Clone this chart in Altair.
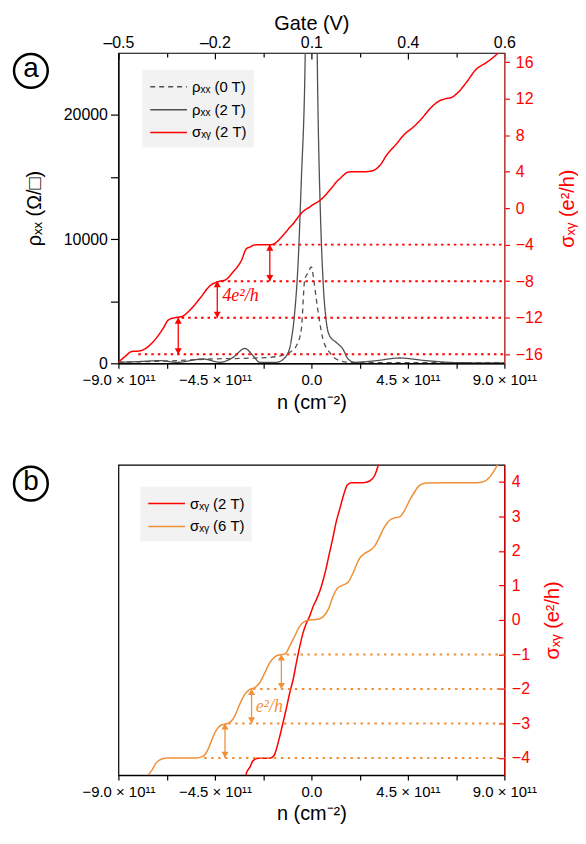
import altair as alt
import pandas as pd

# ---------------- data (n in units of 1e11 cm^-2) ----------------
# sigma_xy at 2 T (e^2/h)
n_s2T = [-9.0, -8.69, -8.38, -7.99, -7.76, -7.37, -6.91, -6.67, -6.36, -6.05,
         -5.66, -5.20, -4.73, -4.27, -4.03, -3.65, -3.26, -3.03,
         -2.87, -2.72, -2.48, -1.94, -1.74, -1.63, -1.47, -1.32, -1.16, -1.01,
         -0.85, -0.70, -0.54, -0.39, -0.23, -0.08, 0.08, 0.23, 0.39, 0.51,
         0.67, 0.82, 0.98, 1.16, 1.35, 1.52, 1.66, 1.86, 2.41, 2.72,
         2.95, 3.10, 3.25,
         3.49, 3.96, 4.35, 4.73, 5.12, 5.51, 5.97, 6.28, 6.52, 6.83,
         7.22, 7.68, 8.15, 8.46, 8.8]
sig_2T = [-16.9, -16.25, -15.71, -15.64, -15.42, -14.62, -13.16, -12.25, -12.0, -11.89,
          -11.16, -9.89, -8.51, -8.0, -7.89, -6.98, -5.71, -4.44,
          -4.27, -4.08, -4.01, -4.01, -3.93, -3.74, -3.36, -2.97, -2.54, -2.11,
          -1.72, -1.24, -0.76, -0.375, -0.09, 0.11, 0.39, 0.59, 0.83, 1.07,
          1.45, 1.88, 2.32, 2.85, 3.28, 3.66, 3.90, 3.98, 3.98, 4.03,
          4.19, 4.45, 4.85,
          5.75, 7.02, 8.11, 8.84, 9.75, 10.84, 11.75, 12.0, 12.11, 12.65,
          13.75, 15.2, 15.93, 16.47, 17.2]

# sigma_xy at 6 T (e^2/h)
n_s6T = [-7.60, -7.45, -7.22, -6.98, -6.67, -5.35, -5.04, -4.81, -4.66, -4.45,
         -4.27, -4.03, -3.80, -3.57, -3.34, -3.10, -2.87, -2.64, -2.41, -2.17,
         -1.94, -1.71, -1.47, -1.24, -1.01, -0.78, -0.54, -0.31, -0.08, 0.23,
         0.54, 0.78, 1.01, 1.21, 1.47, 1.71, 1.94, 2.25, 2.48, 2.72,
         2.95, 3.18, 3.41, 3.65, 3.88, 4.11, 4.35, 4.58, 4.81, 5.04,
         5.35, 6.13, 7.68, 7.99, 8.30, 8.53, 8.69]
sig_6T = [-4.49, -4.37, -4.13, -4.03, -4.0, -4.0, -3.95, -3.74, -3.5, -3.21,
          -3.07, -3.02, -2.97, -2.78, -2.44, -2.15, -2.01, -1.96, -1.82, -1.53,
          -1.24, -1.07, -1.01, -0.99, -0.76, -0.47, -0.18, -0.04, 0.0, 0.01,
          0.09, 0.30, 0.68, 0.92, 1.01, 1.09, 1.36, 1.79, 1.93, 2.01,
          2.14, 2.41, 2.70, 2.89, 2.96, 2.99, 3.18, 3.47, 3.71, 3.90,
          3.97, 3.98, 3.98, 4.0, 4.13, 4.34, 4.51]

# rho_xx at 0 T (Ohm/sq)
n_r0T = [-9.0, -7.84, -6.28, -4.73, -3.18, -1.94, -1.32, -1.01, -0.70, -0.47,
         -0.31, -0.16, 0.0, 0.11, 0.23, 0.39, 0.54, 0.85, 1.32, 1.78,
         3.80, 6.13, 9.0]
rho_0T = [80, 130, 213, 347, 400, 480, 667, 880, 1413, 2747,
          6747, 7280, 7760, 6747, 5147, 3280, 1947, 880, 213, 80,
          60, 60, 50]

# rho_xx at 2 T (Ohm/sq)
n_r2T = [-9.0, -8.15, -7.06, -6.28, -5.04, -4.27, -3.65, -3.10, -2.72, -2.41,
         -1.63, -1.16, -0.93, -0.78, -0.62, -0.47, -0.31, -0.16, 0.0, 0.16,
         0.31, 0.42, 0.54, 0.70, 0.85, 1.16, 1.47, 1.71, 2.02, 3.03,
         4.11, 5.35, 6.91, 9.0]
rho_2T = [80, 130, 213, 80, 347, 80, 480, 1200, 613, 80,
          80, 613, 1947, 4080, 8080, 14750, 22750, 40000, 45000, 40000,
          20080, 12080, 6747, 3280, 2213, 1680, 1147, 347, 80, 213,
          427, 213, 50, 30]

# plateau guides & arrows
plat_a_level = [-4, -8, -12, -16]
plat_a_start = [-1.8, -4.2, -6.05, -8.07]
arrow_a_n = [-1.94, -4.39, -6.21]
arrow_a_top = [-4, -8, -12]
arrow_a_bot = [-8, -12, -16]
plat_b_level = [-1, -2, -3, -4]
plat_b_start = [-1.16, -2.72, -3.88, -5.0]
arrow_b_n = [-1.40, -2.79, -4.03]
arrow_b_top = [-1, -2, -3]
arrow_b_bot = [-2, -3, -4]

x_ticks = [-9, -6.75, -4.5, -2.25, 0, 2.25, 4.5, 6.75, 9]
gate_ticks = [-9, -4.5, 0, 4.5, 9]
gate_labels = ["\u20130.5", "\u20130.2", "0.1", "0.4", "0.6"]

ser_a = ["\u03c1\u2093\u2093 (0 T)", "\u03c1\u2093\u2093 (2 T)", "\u03c3\u2093\u1d67 (2 T)"]
ser_b = ["\u03c3\u2093\u1d67 (2 T)", "\u03c3\u2093\u1d67 (6 T)"]

FONT = "Liberation Sans"
RED = "#ff0000"
ORANGE = "#f0913a"
GRAY = "#505050"
W, H = 388, 312
SA = [-17, 17]
SB = [-4.5, 4.5]
TFS = 20  # axis title font size

# ---------------- frames ----------------
df_rho = pd.concat([
    pd.DataFrame({"n": n_r0T, "v": rho_0T, "series": ser_a[0]}),
    pd.DataFrame({"n": n_r2T, "v": rho_2T, "series": ser_a[1]}),
])
df_sa = pd.DataFrame({"n": n_s2T, "v": sig_2T, "series": ser_a[2]})
df_sb = pd.concat([
    pd.DataFrame({"n": n_s2T, "v": sig_2T, "series": ser_b[0]}),
    pd.DataFrame({"n": n_s6T, "v": sig_6T, "series": ser_b[1]}),
])
df_pa = pd.DataFrame({"start": plat_a_start, "end": 9.0, "lvl": plat_a_level})
df_aa = pd.DataFrame({"n": arrow_a_n, "top": arrow_a_top, "bot": arrow_a_bot})
df_pb = pd.DataFrame({"start": plat_b_start, "end": 9.0, "lvl": plat_b_level})
df_ab = pd.DataFrame({"n": arrow_b_n, "top": arrow_b_top, "bot": arrow_b_bot})
gate_expr = " : ".join(
    f"datum.value == {v} ? '{l}'" for v, l in zip(gate_ticks[:-1], gate_labels[:-1])
) + f" : '{gate_labels[-1]}'"


def xs():
    return alt.Scale(domain=[-9, 9], nice=False, zero=False)


def ys(dom):
    return alt.Scale(domain=dom, nice=False, zero=False)


def bottom_axis():
    return alt.Axis(orient="bottom", values=x_ticks,
                    labelExpr="abs(datum.value) < 0.01 ? '0.0' : (abs(datum.value) % 4.5 < 0.01 ? format(datum.value, '.1f') + ' \u00d7 10\u00b9\u00b9' : '')",
                    title="n (cm\u207b\u00b2)", tickSize=5, labelFontSize=15, titleFontSize=TFS,
                    labelPadding=4, titlePadding=5, labelFlush=False, labelOverlap=False,
                    domainColor="black", tickColor="black", labelColor="black", titleColor="black")


def legend_at(x, y):
    # line symbol 37px long drawn from the entry's left edge
    return alt.Legend(orient="none", legendX=x, legendY=y, title=None,
                      symbolType="M-1,0H3.1", symbolSize=324, symbolStrokeWidth=1.5,
                      labelFontSize=15, labelFont=FONT, fillColor="#f2f2f2",
                      padding=7, rowPadding=5, labelLimit=300, labelOffset=23)


def letter_layers(letter, dom, dy):
    # anchored to the top-left corner of the plot area
    d = pd.DataFrame({"t": [letter], "x0": [-9.0], "y0": [dom[1]]})
    enc = dict(x=alt.X("x0:Q", scale=xs(), axis=None), y=alt.Y("y0:Q", scale=ys(dom), axis=None))
    c = alt.Chart(d).mark_point(shape="circle", size=1150, filled=False, color="black",
                                strokeWidth=2.5, opacity=1, xOffset=-88, yOffset=dy,
                                clip=False).encode(**enc)
    t = alt.Chart(d).mark_text(fontSize=28, font=FONT, align="center", baseline="middle",
                               xOffset=-88, yOffset=dy - 2, color="black").encode(
        text="t:N", **enc)
    return [c, t]


def invisible_x(axis, dom):
    d = pd.DataFrame({"n": x_ticks, "y0": [dom[0]] * len(x_ticks)})
    return alt.Chart(d).mark_point(opacity=0).encode(
        x=alt.X("n:Q", scale=xs(), axis=axis),
        y=alt.Y("y0:Q", scale=ys(dom), axis=None))


# ---------------- panel a ----------------
col_a = alt.Color("series:N", scale=alt.Scale(domain=ser_a, range=[GRAY, GRAY, RED]),
                  legend=legend_at(24, 17))
dash_a = alt.StrokeDash("series:N", scale=alt.Scale(domain=ser_a, range=[[5, 4], [1, 0], [1, 0]]),
                        legend=legend_at(24, 17))

rho_layer = alt.Chart(df_rho).mark_line(clip=True, strokeWidth=1.3, interpolate="monotone").encode(
    x=alt.X("n:Q", scale=xs(), axis=bottom_axis()),
    y=alt.Y("v:Q", scale=ys([0, 25000]),
            axis=alt.Axis(orient="left", values=[0, 5000, 10000, 15000, 20000],
                          labelExpr="datum.value % 10000 == 0 ? '' + datum.value : ''",
                          title="\u03c1\u2093\u2093 (\u03a9/\u25a1)", tickSize=8, labelFontSize=16,
                          titleFontSize=TFS, labelPadding=3, titlePadding=19, labelOverlap=False,
                          labelFlush=False, domainColor="black", tickColor="black")),
    color=col_a, strokeDash=dash_a, detail="series:N")

sig_a_layer = alt.Chart(df_sa).mark_line(clip=True, strokeWidth=1.5, interpolate="monotone").encode(
    x=alt.X("n:Q", scale=xs(), axis=None),
    y=alt.Y("v:Q", scale=ys(SA),
            axis=alt.Axis(orient="right", values=list(range(-16, 17, 4)), format="d",
                          title="\u03c3\u2093\u1d67 (e\u00b2/h)", titleAngle=270,
                          titleBaseline="top", tickSize=5,
                          labelFontSize=16, titleFontSize=TFS, labelPadding=6, titlePadding=15,
                          labelFlush=False, labelOverlap=False,
                          domainColor="#ff5050", tickColor=RED, labelColor=RED, titleColor=RED)),
    color=col_a, strokeDash=dash_a)

dots_a = alt.Chart(df_pa).mark_rule(strokeDash=[2.5, 4], strokeWidth=2, color=RED).encode(
    x=alt.X("start:Q", scale=xs(), axis=None), x2="end:Q",
    y=alt.Y("lvl:Q", scale=ys(SA), axis=None))
arr_a = alt.Chart(df_aa).mark_rule(strokeWidth=1.3, color=RED).encode(
    x=alt.X("n:Q", scale=xs(), axis=None),
    y=alt.Y("top:Q", scale=ys(SA), axis=None), y2="bot:Q")
head_a_up = alt.Chart(df_aa).mark_point(shape="triangle-up", filled=True, size=50, color=RED,
                                        opacity=1, yOffset=3).encode(
    x=alt.X("n:Q", scale=xs(), axis=None), y=alt.Y("top:Q", scale=ys(SA), axis=None))
head_a_dn = alt.Chart(df_aa).mark_point(shape="triangle-down", filled=True, size=50, color=RED,
                                        opacity=1, yOffset=-3).encode(
    x=alt.X("n:Q", scale=xs(), axis=None), y=alt.Y("bot:Q", scale=ys(SA), axis=None))
lab_a = alt.Chart(pd.DataFrame({"n": [-4.15], "s": [-9.6], "t": ["4e\u00b2/h"]})).mark_text(
    align="left", baseline="middle", fontSize=18, font="Liberation Serif", fontStyle="italic",
    color=RED).encode(x=alt.X("n:Q", scale=xs(), axis=None),
                      y=alt.Y("s:Q", scale=ys(SA), axis=None), text="t:N")

top_labels = invisible_x(alt.Axis(orient="top", values=gate_ticks, labelExpr=gate_expr,
                                  ticks=False, tickSize=0, domain=False, title="Gate (V)",
                                  labelFontSize=16, titleFontSize=TFS, labelPadding=2,
                                  titlePadding=2, labelFlush=False, labelOverlap=False), SA)
top_major = invisible_x(alt.Axis(orient="top", values=gate_ticks, labels=False, domain=False,
                                 tickSize=6, offset=-6, title=None, tickColor="black"), SA)
top_minor = invisible_x(alt.Axis(orient="top", values=[-6.75, -2.25, 2.25, 6.75], labels=False,
                                 domain=False, tickSize=4, offset=-4, title=None,
                                 tickColor="black"), SA)

panel_a = alt.layer(
    rho_layer, sig_a_layer, dots_a, arr_a, head_a_up, head_a_dn, lab_a,
    top_labels, top_major, top_minor, *letter_layers("a", SA, 18)
).resolve_scale(x="independent", y="independent").properties(width=W, height=H)

# ---------------- panel b ----------------
col_b = alt.Color("series:N", scale=alt.Scale(domain=ser_b, range=[RED, ORANGE]),
                  legend=legend_at(22, 22))

sig_b_layer = alt.Chart(df_sb).mark_line(clip=True, strokeWidth=1.5, interpolate="monotone").encode(
    x=alt.X("n:Q", scale=xs(), axis=bottom_axis()),
    y=alt.Y("v:Q", scale=ys(SB),
            axis=alt.Axis(orient="right", values=list(range(-4, 5)), format="d", ticks=False,
                          tickSize=0, title="\u03c3\u2093\u1d67 (e\u00b2/h)", titleAngle=270,
                          titleBaseline="top",
                          labelFontSize=16, titleFontSize=TFS, labelPadding=7, titlePadding=13,
                          labelFlush=False, labelOverlap=False,
                          domainColor=RED, labelColor=RED, titleColor=RED)),
    color=col_b, detail="series:N")
ticks_b = alt.Chart(pd.DataFrame({"s": list(range(-4, 5)), "x0": 9.0})).mark_point(opacity=0).encode(
    x=alt.X("x0:Q", scale=xs(), axis=None),
    y=alt.Y("s:Q", scale=ys(SB),
            axis=alt.Axis(orient="right", values=list(range(-4, 5)), labels=False, domain=False,
                          tickSize=6, offset=-6, title=None, tickColor=RED)))
dots_b = alt.Chart(df_pb).mark_rule(strokeDash=[2.5, 4.5], strokeWidth=2, color=ORANGE).encode(
    x=alt.X("start:Q", scale=xs(), axis=None), x2="end:Q",
    y=alt.Y("lvl:Q", scale=ys(SB), axis=None))
arr_b = alt.Chart(df_ab).mark_rule(strokeWidth=1.3, color=ORANGE).encode(
    x=alt.X("n:Q", scale=xs(), axis=None),
    y=alt.Y("top:Q", scale=ys(SB), axis=None), y2="bot:Q")
head_b_up = alt.Chart(df_ab).mark_point(shape="triangle-up", filled=True, size=50, color=ORANGE,
                                        opacity=1, yOffset=3).encode(
    x=alt.X("n:Q", scale=xs(), axis=None), y=alt.Y("top:Q", scale=ys(SB), axis=None))
head_b_dn = alt.Chart(df_ab).mark_point(shape="triangle-down", filled=True, size=50, color=ORANGE,
                                        opacity=1, yOffset=-3).encode(
    x=alt.X("n:Q", scale=xs(), axis=None), y=alt.Y("bot:Q", scale=ys(SB), axis=None))
lab_b = alt.Chart(pd.DataFrame({"n": [-2.6], "s": [-2.53], "t": ["e\u00b2/h"]})).mark_text(
    align="left", baseline="middle", fontSize=18, font="Liberation Serif", fontStyle="italic",
    color=ORANGE).encode(x=alt.X("n:Q", scale=xs(), axis=None),
                         y=alt.Y("s:Q", scale=ys(SB), axis=None), text="t:N")

panel_b = alt.layer(
    sig_b_layer, ticks_b, dots_b, arr_b, head_b_up, head_b_dn, lab_b,
    *letter_layers("b", SB, 19)
).resolve_scale(x="independent", y="independent").properties(width=W, height=H)

chart = alt.vconcat(panel_a, panel_b, spacing=48).resolve_scale(
    color="independent", strokeDash="independent"
).properties(
    padding={"left": 0, "top": 2, "right": 0, "bottom": 5}
).configure_view(stroke="black", strokeWidth=1.2).configure_axis(
    labelFont=FONT, titleFont=FONT, titleFontWeight="normal", grid=False,
    domainWidth=1.2, tickWidth=1.2
)

chart.save("out.html", embed_options={"renderer": "svg", "actions": False})
